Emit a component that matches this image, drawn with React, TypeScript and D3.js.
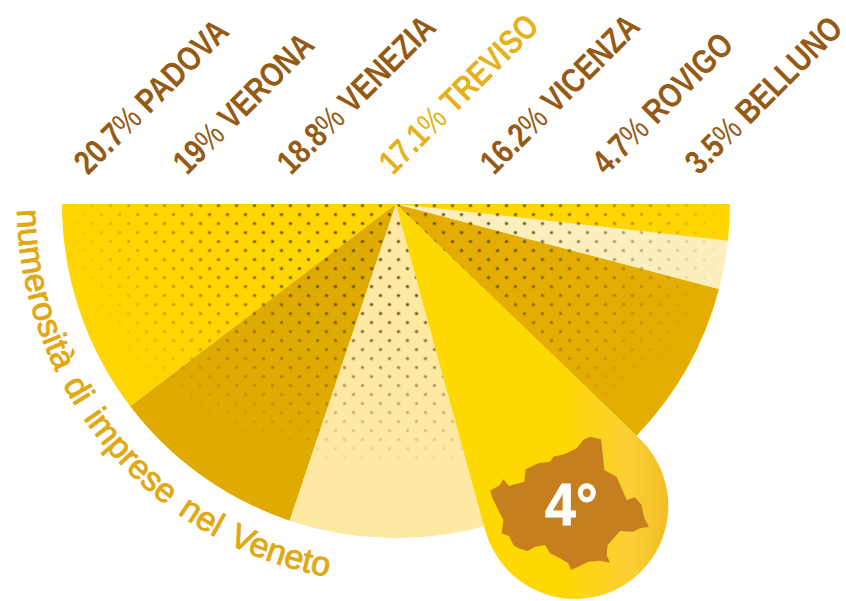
import { useEffect, useRef } from "react"
import * as d3 from "d3"

const provinces = ["PADOVA", "VERONA", "VENEZIA", "TREVISO", "VICENZA", "ROVIGO", "BELLUNO"]
const shares = [20.7, 19, 18.8, 17.1, 16.2, 4.7, 3.5]
const sliceColors = ["#ffd600", "#e0ab00", "#fde9a2", "#ffd800", "#e3ae00", "#fcefbd", "#ffd600"]
const highlighted = "TREVISO"
const rank = "4°"
const curvedTitle = "numerosità di imprese nel Veneto"

// outline of the province, in its own 510 x 450 box
const mapOutline: [number, number][] = [
  [15, 182], [45, 165], [55, 148], [72, 168], [118, 155], [122, 118], [160, 100], [195, 95], [205, 80], [240, 72],
  [275, 55], [295, 30], [315, 20], [348, 28], [352, 60], [358, 120], [395, 140], [410, 175], [425, 210], [450, 202],
  [470, 225], [478, 265], [492, 290], [465, 295], [445, 305], [405, 303], [390, 320], [368, 345], [365, 375], [375, 398],
  [345, 392], [310, 395], [280, 410], [258, 420], [250, 400], [225, 385], [195, 370], [180, 345], [150, 350], [128, 363],
  [100, 355], [85, 345], [72, 318], [50, 310], [55, 270], [40, 240], [25, 210],
]

export default function App() {
  const svgRef = useRef<SVGSVGElement>(null)

  useEffect(() => {
    if (!svgRef.current) return

    const svg = d3.select(svgRef.current)
    svg.selectAll("*").remove()

    const width = 846
    const height = 601
    const cx = 396
    const cy = 204
    const radius = 334

    svg
      .attr("width", width)
      .attr("height", height)
      .attr("viewBox", `0 0 ${width} ${height}`)
      .style("position", "absolute")
      .style("left", 0)
      .style("top", 0)
      .style("background", "#fff")

    const data = provinces.map((name, i) => ({ name, share: shares[i], color: sliceColors[i] }))

    const pie = d3
      .pie<{ name: string; share: number; color: string }>()
      .sort(null)
      .value((d) => d.share)
      .startAngle(1.5 * Math.PI)
      .endAngle(0.5 * Math.PI)
    const arcs = pie(data)
    const arc = d3
      .arc<d3.PieArcDatum<{ name: string; share: number; color: string }>>()
      .innerRadius(0)
      .outerRadius(radius)

    const defs = svg.append("defs")

    // dot screen, fading out away from the centre
    const pattern = defs
      .append("pattern")
      .attr("id", "dots")
      .attr("patternUnits", "userSpaceOnUse")
      .attr("x", cx + 2.5 - 9)
      .attr("y", cy + 1.5)
      .attr("width", 18)
      .attr("height", 18)
    const dotSpots = [[9, 0], [9, 18], [0, 9], [18, 9]]
    dotSpots.forEach((p) => {
      pattern.append("circle").attr("cx", p[0]).attr("cy", p[1]).attr("r", 1.6).attr("fill", "#5e4410")
    })

    const fade = defs
      .append("radialGradient")
      .attr("id", "dotFade")
      .attr("gradientUnits", "userSpaceOnUse")
      .attr("gradientTransform", `translate(${cx},${cy}) scale(1,0.8)`)
      .attr("cx", 0)
      .attr("cy", 0)
      .attr("r", 335)
    fade.append("stop").attr("offset", "0.4").attr("stop-color", "#fff")
    fade.append("stop").attr("offset", "0.7").attr("stop-color", "#888")
    fade.append("stop").attr("offset", "1").attr("stop-color", "#000")
    defs
      .append("mask")
      .attr("id", "dotMask")
      .attr("maskUnits", "userSpaceOnUse")
      .attr("x", 0)
      .attr("y", 0)
      .attr("width", width)
      .attr("height", height)
      .append("rect")
      .attr("width", width)
      .attr("height", height)
      .attr("fill", "url(#dotFade)")

    const callout = defs
      .append("linearGradient")
      .attr("id", "calloutFill")
      .attr("gradientUnits", "userSpaceOnUse")
      .attr("x1", 560)
      .attr("y1", 0)
      .attr("x2", 668)
      .attr("y2", 0)
    callout.append("stop").attr("offset", "0").attr("stop-color", "#ffd800")
    callout.append("stop").attr("offset", "0.65").attr("stop-color", "#fccf35")
    callout.append("stop").attr("offset", "1").attr("stop-color", "#f3bd25")

    const g = svg.append("g").attr("transform", `translate(${cx},${cy})`)

    g.selectAll(".slice")
      .data(arcs)
      .enter()
      .append("path")
      .attr("class", "slice")
      .attr("d", arc)
      .attr("fill", (d) => d.data.color)

    // dots sit on every slice but the highlighted one
    const dotSlices = arcs.filter((d) => d.data.name !== highlighted)
    const dotClip = defs.append("clipPath").attr("id", "dotClip")
    dotClip
      .selectAll("path")
      .data(dotSlices)
      .enter()
      .append("path")
      .attr("transform", `translate(${cx},${cy})`)
      .attr("d", arc)
    svg
      .append("g")
      .attr("mask", "url(#dotMask)")
      .append("rect")
      .attr("width", width)
      .attr("height", height)
      .attr("clip-path", "url(#dotClip)")
      .attr("fill", "url(#dots)")

    // teardrop for the highlighted slice
    const hi = arcs.find((d) => d.data.name === highlighted)!
    const mid = (hi.startAngle + hi.endAngle) / 2
    const half = Math.abs(hi.startAngle - hi.endAngle) / 2
    const dropDist = 351
    const dropR = dropDist * Math.sin(half)
    const dropX = cx + dropDist * Math.sin(mid)
    const dropY = cy - dropDist * Math.cos(mid)
    const canvasAngle = mid - Math.PI / 2
    const a0 = canvasAngle + Math.PI / 2 + half
    const a1 = canvasAngle - Math.PI / 2 - half
    const drop = d3.path()
    drop.moveTo(cx, cy)
    drop.lineTo(dropX + dropR * Math.cos(a0), dropY + dropR * Math.sin(a0))
    drop.arc(dropX, dropY, dropR, a0, a1, true)
    drop.closePath()
    svg.append("path").attr("d", drop.toString()).attr("fill", "url(#calloutFill)")

    const mapX = d3.scaleLinear().domain([0, 510]).range([485, 655])
    const mapY = d3.scaleLinear().domain([0, 450]).range([430, 580])
    svg
      .append("path")
      .attr("d", d3.line().curve(d3.curveLinearClosed).x((d) => mapX(d[0])).y((d) => mapY(d[1]))(mapOutline))
      .attr("fill", "#c57f1f")

    svg
      .append("text")
      .attr("transform", "translate(545,525) scale(0.92,1)")
      .attr("font-family", "'Liberation Sans'")
      .attr("font-weight", 700)
      .attr("font-size", 60)
      .attr("fill", "#fff")
      .attr("stroke", "#fff")
      .attr("stroke-width", 0.8)
      .text(rank)

    // rotated labels above the half circle
    const labelStarts = [88, 187, 291, 393, 494, 606, 699]
    const labels = svg
      .selectAll(".label")
      .data(arcs)
      .enter()
      .append("text")
      .attr("class", "label")
      .attr("transform", (d, i) => `translate(${labelStarts[i]},176) rotate(-45) scale(0.82,1)`)
      .attr("font-family", "'Liberation Sans'")
      .attr("font-weight", 700)
      .attr("font-size", 34)
      .attr("fill", (d) => (d.data.name === highlighted ? "#e5b21e" : "#955a14"))
    labels.append("tspan").text((d) => `${d.data.share}`)
    labels.append("tspan").attr("font-weight", 400).text("%")
    labels.append("tspan").text((d) => ` ${d.data.name}`)

    // title running along the rim
    const titleRadius = 379
    const rim = d3.path()
    rim.arc(cx, cy, titleRadius, Math.PI, Math.PI * 0.45, true)
    defs.append("path").attr("id", "rim").attr("d", rim.toString())
    svg
      .append("text")
      .attr("font-family", "'Liberation Sans', Arial")
      .attr("font-size", 34)
      .attr("word-spacing", 4)
      .attr("fill", "#e0a812")
      .attr("stroke", "#e0a812")
      .attr("stroke-width", 0.9)
      .append("textPath")
      .attr("href", "#rim")
      .attr("startOffset", 6)
      .text(curvedTitle)
  }, [])

  return <svg ref={svgRef}></svg>
}
